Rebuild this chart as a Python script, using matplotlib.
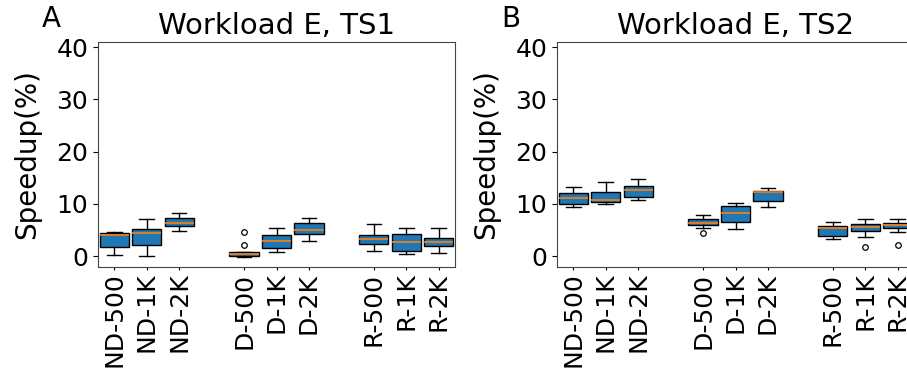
import matplotlib
matplotlib.use("Agg")
import matplotlib.pyplot as plt

labels = ["ND-500", "ND-1K", "ND-2K", "D-500", "D-1K", "D-2K",
          "R-500", "R-1K", "R-2K"]
positions = [1, 2, 3, 5, 6, 7, 9, 10, 11]

# workload E, TS1: whisker low, q1, median, q3, whisker high, outliers
ts1_lo = [0.2, 0.0, 4.8, -0.1, 0.7, 2.9, 1.0, 0.3, 0.6]
ts1_q1 = [1.7, 2.2, 5.7, 0.1, 1.5, 4.2, 2.4, 0.9, 1.85]
ts1_med = [4.0, 4.5, 6.3, 0.35, 2.8, 4.9, 3.2, 2.7, 2.6]
ts1_q3 = [4.5, 5.2, 7.2, 0.7, 4.0, 6.4, 3.95, 4.2, 3.4]
ts1_hi = [4.7, 7.1, 8.2, 0.8, 5.4, 7.3, 6.05, 5.4, 5.3]
ts1_out = [[], [], [], [2.2, 4.7], [], [], [], [], []]

# workload E, TS2
ts2_lo = [9.4, 9.9, 10.7, 5.3, 5.2, 9.3, 3.3, 3.6, 4.6]
ts2_q1 = [9.9, 10.3, 11.4, 5.9, 6.5, 10.45, 3.75, 4.8, 5.3]
ts2_med = [11.2, 10.8, 12.6, 6.4, 8.3, 12.25, 5.35, 5.6, 5.95]
ts2_q3 = [12.05, 12.2, 13.4, 7.1, 9.55, 12.55, 5.75, 6.05, 6.3]
ts2_hi = [13.3, 14.2, 14.7, 7.9, 10.25, 13.1, 6.45, 7.0, 7.0]
ts2_out = [[], [], [], [4.35], [], [], [], [1.7], [2.05]]

W, H = 907, 368
fig = plt.figure(figsize=(W / 100, H / 100), dpi=100)


def panel(left, lo, q1, med, q3, hi, out, title, letter):
    ax = fig.add_axes([left / W, 1 - 267 / H, 357 / W, 225 / H])
    stats = [dict(whislo=a, q1=b, med=c, q3=d, whishi=e, fliers=f)
             for a, b, c, d, e, f in zip(lo, q1, med, q3, hi, out)]
    ax.bxp(stats, positions=positions, widths=0.9, patch_artist=True,
           boxprops=dict(facecolor="#1f77b4", edgecolor="black", linewidth=1.0),
           whiskerprops=dict(color="black", linewidth=1.0),
           capprops=dict(color="black", linewidth=1.0),
           medianprops=dict(color="#ff7f0e", linewidth=1.2),
           flierprops=dict(marker="o", markersize=4, markerfacecolor="white",
                           markeredgecolor="black", markeredgewidth=0.9))
    ax.set_xlim(0.5, 11.5)
    ax.set_ylim(-2.1, 41)
    ax.set_yticks([0, 10, 20, 30, 40])
    ax.set_xticks(positions)
    ax.set_xticklabels(labels, rotation=90)
    ax.tick_params(labelsize=18)
    ax.tick_params(axis="x", length=2, pad=2)
    ax.set_ylabel("Speedup(%)", fontsize=20)
    ax.yaxis.set_label_coords(-0.16, 0.5)
    ax.set_title(title, fontsize=21)
    ax.text(-0.13, 1.04, letter, transform=ax.transAxes, fontsize=20,
            va="bottom", ha="center")
    for s in ax.spines.values():
        s.set_color("#444444")
    return ax


panel(98, ts1_lo, ts1_q1, ts1_med, ts1_q3, ts1_hi, ts1_out,
      "Workload E, TS1", "A")
panel(557, ts2_lo, ts2_q1, ts2_med, ts2_q3, ts2_hi, ts2_out,
      "Workload E, TS2", "B")

fig.savefig("out.png", dpi=100)
